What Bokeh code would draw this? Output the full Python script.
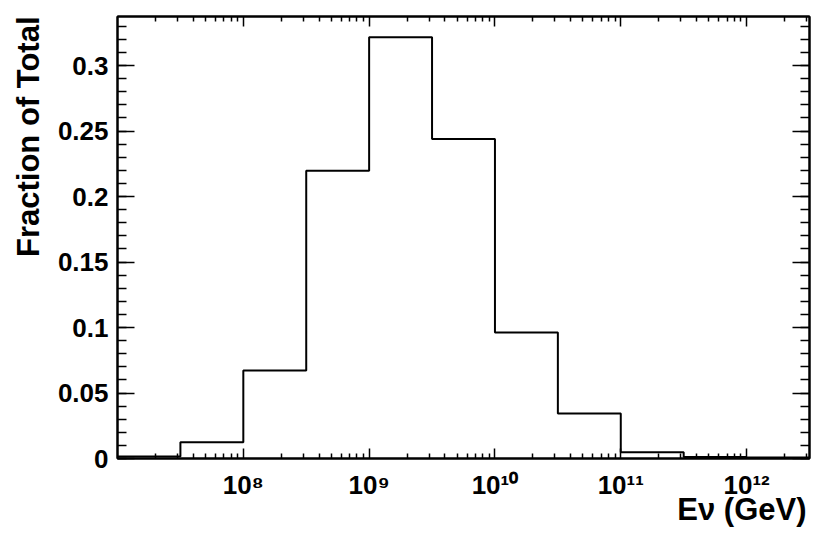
from bokeh.plotting import figure
from bokeh.models import FixedTicker, LinearAxis, LogAxis, Range1d, Title
from bokeh.embed import file_html
from bokeh.resources import INLINE

# ---- data ----
bin_edges_log10 = [7.0, 7.5, 8.0, 8.5, 9.0, 9.5, 10.0, 10.5, 11.0, 11.5, 12.0, 12.5]
fraction = [0.0015, 0.0124, 0.0672, 0.2198, 0.3216, 0.2440, 0.0962, 0.0344, 0.0048, 0.0012, 0.0008]
x_major_exp = [8, 9, 10, 11, 12]
x_labels = ["10\u2078", "10\u2079", "10\u00b9\u2070", "10\u00b9\u00b9", "10\u00b9\u00b2"]
y_major = [0, 0.05, 0.1, 0.15, 0.2, 0.25, 0.3]
y_labels = ["0", "0.05", "0.1", "0.15", "0.2", "0.25", "0.3"]
x_title = "E\u03bd (GeV)"
y_title = "Fraction of Total"

# ---- layout ----
W, H = 822, 537
ML, MR, MT, MB = 116, 13, 16, 79
X0, X1 = 1e7, 10 ** 12.5
Y0, Y1 = 0.0, 0.3375
FONT = "Liberation Sans"

p = figure(width=W, height=H, x_axis_type="log", output_backend="svg",
           toolbar_location=None, min_border_left=ML, min_border_right=MR,
           min_border_top=MT, min_border_bottom=MB,
           x_range=Range1d(X0, X1), y_range=Range1d(Y0, Y1))
p.grid.visible = False
p.background_fill_color = "white"
p.border_fill_color = "white"
p.outline_line_color = "black"
p.outline_line_width = 2

xs = [10 ** e for e in bin_edges_log10]
ys = fraction + [fraction[-1]]
p.step(xs, ys, mode="after", line_color="black", line_width=2)

x_major = [10.0 ** e for e in x_major_exp]
x_minor = []
for dec in range(7, 13):
    for m in range(2, 10):
        v = m * 10.0 ** dec
        if X0 < v < X1:
            x_minor.append(v)
y_minor = [round(i * 0.01, 2) for i in range(0, 34)]

def style_x(ax, show):
    ax.ticker = FixedTicker(ticks=x_major, minor_ticks=x_minor)
    ax.major_tick_in = 10
    ax.major_tick_out = 0
    ax.minor_tick_in = 5
    ax.minor_tick_out = 0
    ax.axis_line_width = 2
    ax.major_tick_line_width = 1.5
    ax.minor_tick_line_width = 1.5
    if show:
        ax.major_label_overrides = {v: s for v, s in zip(x_major, x_labels)}
        ax.major_label_text_font = FONT
        ax.major_label_text_font_style = "bold"
        ax.major_label_text_font_size = "26px"
        ax.major_label_text_color = "black"
        ax.major_label_standoff = 11
    else:
        ax.major_label_overrides = {v: "" for v in x_major}
        ax.major_label_standoff = 0

def style_y(ax, show):
    ax.ticker = FixedTicker(ticks=y_major, minor_ticks=y_minor)
    ax.major_tick_in = 17
    ax.major_tick_out = 0
    ax.minor_tick_in = 9
    ax.minor_tick_out = 0
    ax.axis_line_width = 2
    ax.major_tick_line_width = 1.5
    ax.minor_tick_line_width = 1.5
    if show:
        ax.major_label_overrides = {v: s for v, s in zip(y_major, y_labels)}
        ax.major_label_text_font = FONT
        ax.major_label_text_font_style = "bold"
        ax.major_label_text_font_size = "26px"
        ax.major_label_text_color = "black"
        ax.major_label_standoff = 9
    else:
        ax.major_label_overrides = {v: "" for v in y_major}
        ax.major_label_standoff = 0

style_x(p.xaxis[0], True)
style_y(p.yaxis[0], True)
top = LogAxis()
style_x(top, False)
p.add_layout(top, "above")
right = LinearAxis()
style_y(right, False)
p.add_layout(right, "right")

# axis titles (ROOT style: aligned to the axis end)
p.add_layout(Title(text=y_title, align="right", text_font=FONT,
                   text_font_style="bold", text_font_size="31px",
                   text_color="black", standoff=17), "left")
p.add_layout(Title(text=x_title, align="right", text_font=FONT,
                   text_font_style="bold", text_font_size="31px",
                   text_color="black", standoff=-26, offset=3), "below")

open("out.html", "w").write(file_html(p, INLINE))
